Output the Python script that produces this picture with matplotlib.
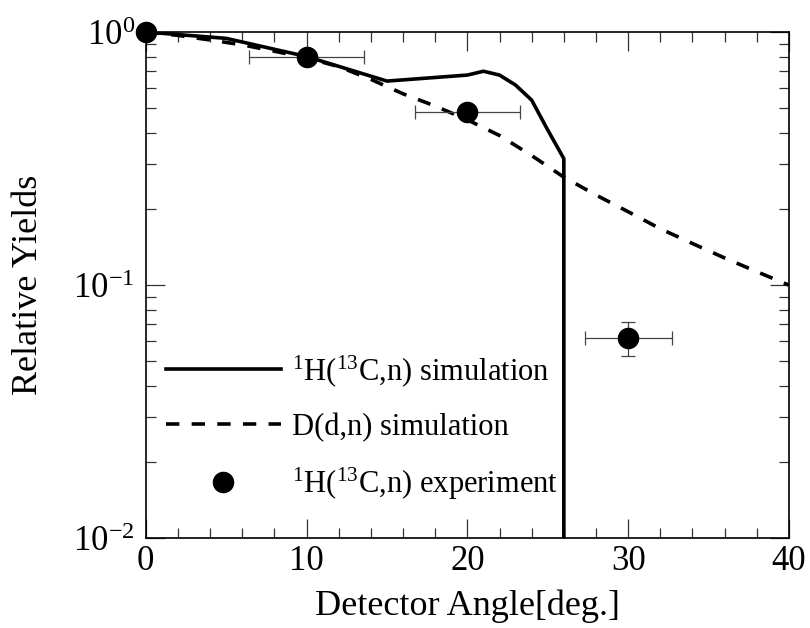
import numpy as np
import matplotlib
matplotlib.use("Agg")
from matplotlib import pyplot as plt
from matplotlib.ticker import MultipleLocator, LogLocator

# 1H(13C,n) simulation
sim_h_angle = [0, 5, 10, 15, 20, 21, 22, 23, 24, 25, 26, 26]
sim_h_yield = [1.0, 0.944, 0.80, 0.64, 0.676, 0.70, 0.676, 0.617, 0.538, 0.41, 0.316, 1e-4]

# D(d,n) simulation
sim_d_angle = [0, 2, 4, 6, 8, 10, 12, 14, 16, 18, 20, 22, 24, 26, 28, 30, 32, 34, 36, 38, 40]
sim_d_yield = [1.0, 0.97, 0.93, 0.89, 0.84, 0.79, 0.73, 0.65, 0.57, 0.51, 0.45, 0.39,
               0.325, 0.267, 0.227, 0.195, 0.167, 0.146, 0.128, 0.113, 0.10]

# 1H(13C,n) experiment
exp_angle = [0, 10, 20, 30]
exp_yield = [1.0, 0.80, 0.482, 0.062]
exp_xerr = [0, 3.6, 3.25, 2.7]
exp_yerr = [0, 0, 0, 0.0093]

plt.rcParams['font.family'] = ['Liberation Serif', 'DejaVu Serif']
plt.rcParams['mathtext.fontset'] = 'custom'
plt.rcParams['mathtext.rm'] = 'Liberation Serif'
plt.rcParams['mathtext.it'] = 'Liberation Serif:italic'

fig = plt.figure(figsize=(8.1, 6.28), dpi=100)
ax = fig.add_axes([0.180, 0.143, 0.794, 0.806])

ax.plot(sim_h_angle, sim_h_yield, color='black', lw=2.6,
        label=r'$^{1}$H($^{13}$C,n) simulation')
ax.plot(sim_d_angle, sim_d_yield, color='black', lw=2.6, dashes=(3.7, 3.4),
        label='D(d,n) simulation')
ax.errorbar(exp_angle, exp_yield, xerr=exp_xerr, yerr=exp_yerr, fmt='none',
            ecolor='#444444', elinewidth=0.9, capsize=5, capthick=0.9)
ax.plot(exp_angle, exp_yield, 'o', color='black', ms=14.5, clip_on=False, zorder=5,
        label=r'$^{1}$H($^{13}$C,n) experiment')

ax.set_yscale('log')
ax.set_xlim(0, 40)
ax.set_ylim(0.01, 1)
ax.xaxis.set_major_locator(MultipleLocator(10))
ax.xaxis.set_minor_locator(MultipleLocator(2))
ax.yaxis.set_minor_locator(LogLocator(base=10, subs=np.arange(2, 10)))

ax.tick_params(which='both', direction='in', top=True, right=True,
               color='#333333', width=0.9, labelsize=25)
ax.tick_params(axis='x', pad=5)
ax.tick_params(axis='y', pad=8)
ax.tick_params(which='major', length=14)
ax.tick_params(which='minor', length=7)
for s in ax.spines.values():
    s.set_linewidth(1.2)

ax.set_xlabel('Detector Angle[deg.]', fontsize=26, labelpad=8)
ax.set_ylabel('Relative Yields', fontsize=26, labelpad=20)

h, l = ax.get_legend_handles_labels()
ax.legend(h, l, loc='upper left', bbox_to_anchor=(0.031, 0.366), frameon=False,
          fontsize=22, handlelength=3.76, handletextpad=0.36, labelspacing=0.78,
          borderpad=0, borderaxespad=0)

fig.savefig('out.png', dpi=100)
